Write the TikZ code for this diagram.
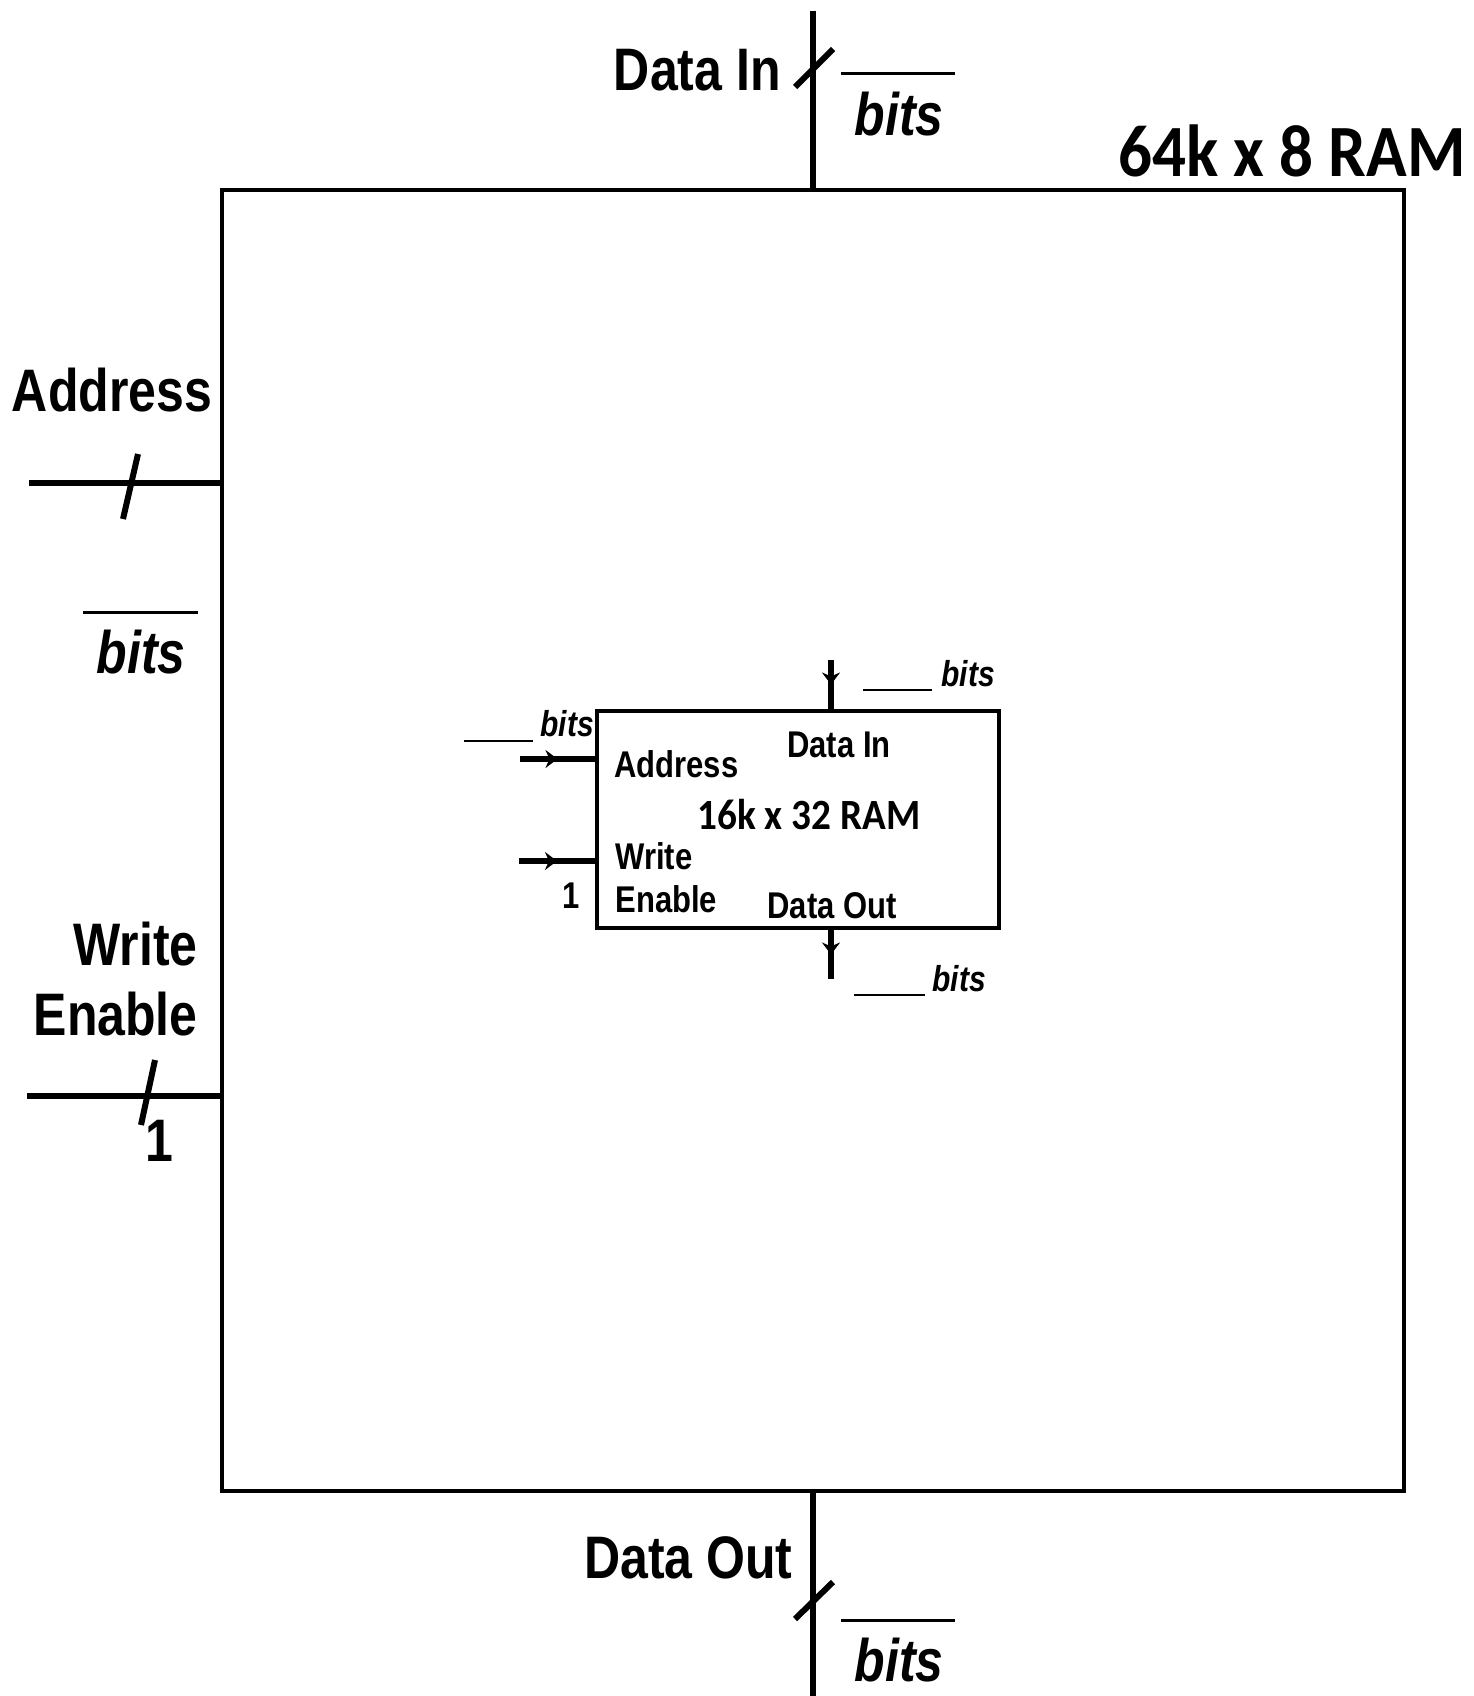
\documentclass[tikz,border=0pt]{standalone}
\usepackage{fontspec}
\setmainfont{Liberation Sans}
\newfontfamily\calib{Carlito}
\usetikzlibrary{positioning,arrows.meta,calc,decorations.markings}

\begin{document}
\begin{tikzpicture}[x=0.5pt,y=-0.5pt,
  sig/.style={line width=3pt},
  bus/.style={line width=3pt,
    postaction={decorate,decoration={markings,
      mark=at position 0.5 with {\arrow{Stealth[length=6pt,width=9pt]}}}}},
  lbl/.style={inner sep=0pt,yscale=1.2,font=\fontsize{25}{29}\selectfont\bfseries},
  small/.style={inner sep=0pt,yscale=1.2,font=\fontsize{15.5}{18}\selectfont\bfseries},
  bitsl/.style={inner sep=0pt,yscale=1.2,font=\fontsize{25}{29}\selectfont\bfseries\itshape},
  bitss/.style={inner sep=0pt,yscale=1.2,font=\fontsize{15}{18}\selectfont\bfseries\itshape}]
  \useasboundingbox (0,0) rectangle (1473,1696);
  % outer RAM
  \node[draw,line width=2.25pt,minimum width=591pt,minimum height=650.5pt,inner sep=0pt] (outer) at (813,840.5) {};
  \node[inner sep=0pt,font=\fontsize{33.5}{40}\selectfont\calib\bfseries,yscale=1.1] (ramname) at (1292,151) {64k x 8 RAM};
  \coordinate (din) at (813,11);
  \coordinate (dout) at (813,1696);
  \coordinate (addr) at (29,483);
  \coordinate (we) at (27,1096);
  \draw[sig] (din) -- (outer.north);
  \draw[sig] (outer.south) -- (dout);
  \draw[sig] (addr) -- (addr -| outer.west);
  \draw[sig] (we) -- (we -| outer.west);
  % bus slashes
  \draw[sig] (833,49) -- (795,87);
  \draw[sig] (833,1582) -- (795,1619);
  \draw[sig] (138,454) -- (123,519);
  \draw[sig] (155,1060) -- (141,1125);
  % outer labels
  \node[lbl,anchor=east] (dinlbl) at (781,70) {Data In};
  \draw[line width=1.5pt] (841,74) -- (955,74);
  \node[bitsl] (dinbits) at (899,114) {bits};
  \node[lbl] (addrlbl) at (112,390) {Address};
  \draw[line width=1.5pt] (83,612) -- (198,612);
  \node[bitsl] (addrbits) at (141,652) {bits};
  \node[lbl,anchor=east,align=right] (welbl) at (198,979) {Write\\Enable};
  \node[lbl] (webits) at (159,1141) {1};
  \node[lbl,anchor=east] (doutlbl) at (793,1558) {Data Out};
  \draw[line width=1.5pt] (841,1620) -- (955,1620);
  \node[bitsl] (doutbits) at (899,1660) {bits};
  % inner RAM
  \node[draw,line width=2pt,minimum width=201pt,minimum height=108.5pt,inner sep=0pt] (ram) at (798,819.5) {};
  \node[inner sep=0pt,font=\fontsize{19.6}{23}\selectfont\calib\bfseries,yscale=1.1] (ramlbl) at (809,815) {16k x 32 RAM};
  \coordinate (iaddr) at (520,759);
  \coordinate (iwe) at (519,861);
  \coordinate (idin) at (831,660);
  \coordinate (idout) at (831,979);
  \draw[bus] (iaddr) -- (iaddr -| ram.west);
  \draw[bus] (iwe) -- (iwe -| ram.west);
  \draw[bus] (idin) -- (idin |- ram.north);
  \draw[bus] (idout |- ram.south) -- (idout);
  \node[small,anchor=west] (iaddrlbl) at (614,764) {Address};
  \node[small,anchor=west,align=left] (iwelbl) at (615,878) {Write\\Enable};
  \node[small] (idinlbl) at (839,745) {Data In};
  \node[small] (idoutlbl) at (832,906) {Data Out};
  \node[small] (iwebits) at (571,896) {1};
  \draw[line width=1pt] (464,741) -- (533,741);
  \node[bitss] (iaddrbits) at (567,724) {bits};
  \draw[line width=1pt] (863,690) -- (932,690);
  \node[bitss] (idinbits) at (968,674) {bits};
  \draw[line width=1pt] (854,995) -- (925,995);
  \node[bitss] (idoutbits) at (959,979) {bits};
\end{tikzpicture}
\end{document}
